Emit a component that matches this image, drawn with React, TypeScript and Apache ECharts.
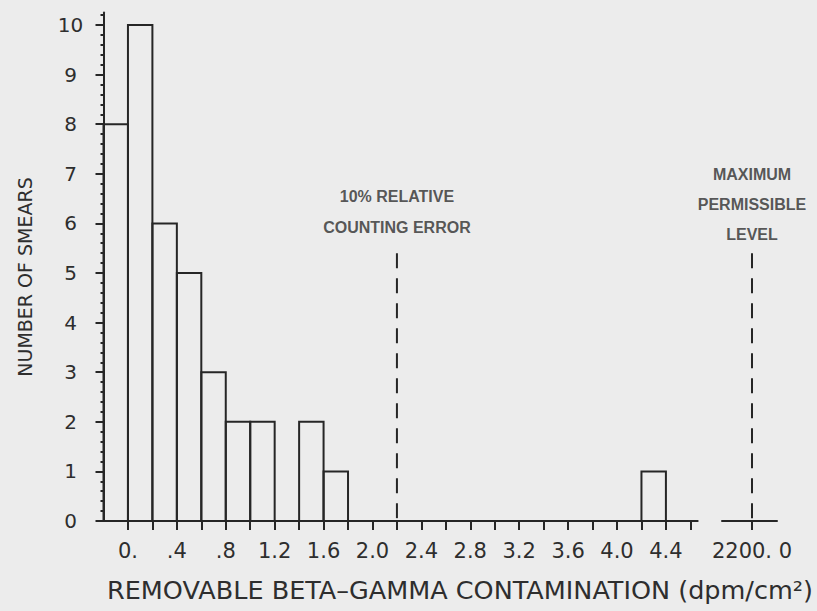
import { useEffect, useRef } from "react";
import * as echarts from "echarts";

// Histogram bins: left edge of each bin (dpm/cm²) and number of smears in it
const binStarts = [-0.2, 0, 0.2, 0.4, 0.6, 0.8, 1.0, 1.4, 1.6, 4.2];
const smearCounts = [8, 10, 6, 5, 3, 2, 2, 2, 1, 1];
const binWidth = 0.2;

// Axis ticks and labels
const xTickValues = [0, 0.2, 0.4, 0.6, 0.8, 1.0, 1.2, 1.4, 1.6, 1.8, 2.0, 2.2, 2.4, 2.6, 2.8, 3.0, 3.2, 3.4, 3.6, 3.8, 4.0, 4.2, 4.4, 4.6];
const xLabelValues = [0, 0.4, 0.8, 1.2, 1.6, 2.0, 2.4, 2.8, 3.2, 3.6, 4.0, 4.4];
const yLabelValues = [0, 1, 2, 3, 4, 5, 6, 7, 8, 9, 10];
const breakTickValues = [2200];

// Reference levels
const relativeErrorLevel = 2.2;
const maxPermissibleLevel = 2200;
const levelLineTop = 5.4;

const LINE = "#262626";
const TEXT = "#2e2e2e";
const BG = "#ececec";
const AXIS_FONT = "DejaVu Sans";
const NOTE_FONT = "Liberation Sans, Arial, sans-serif";

const formatX = (v: number) => {
  if (v === 0) return "0.";
  if (v < 1) return "." + Math.round(v * 10);
  return v.toFixed(1);
};

export default function App() {
  const ref = useRef<HTMLDivElement>(null);

  useEffect(() => {
    if (!ref.current) return;
    const chart = echarts.init(ref.current, null, { renderer: "svg" });

    const axisLine = { show: true, lineStyle: { color: LINE, width: 2 } };

    chart.setOption({
      animation: false,
      backgroundColor: BG,
      grid: [
        { left: 103.5, right: 119.3, top: 12.6, bottom: 90 },
        { left: 722, right: 40, top: 12.6, bottom: 90 },
      ],
      xAxis: [
        {
          type: "value",
          gridIndex: 0,
          min: -0.2,
          max: 4.66,
          interval: 0.2,
          axisLine: { ...axisLine, onZero: false },
          axisTick: { show: true, length: 9, customValues: xTickValues, lineStyle: { color: LINE, width: 2 } },
          axisLabel: {
            customValues: xLabelValues,
            formatter: formatX,
            color: TEXT,
            fontFamily: AXIS_FONT,
            fontSize: 21,
            margin: 30,
            verticalAlign: "middle",
          },
          splitLine: { show: false },
        },
        {
          type: "value",
          gridIndex: 1,
          min: 2170,
          max: 2225,
          axisLine: { ...axisLine, onZero: false },
          axisTick: { show: true, length: 9, customValues: breakTickValues, lineStyle: { color: LINE, width: 2 } },
          axisLabel: {
            customValues: breakTickValues,
            formatter: () => "2200. 0",
            color: TEXT,
            fontFamily: AXIS_FONT,
            fontSize: 21,
            margin: 30,
            verticalAlign: "middle",
          },
          splitLine: { show: false },
        },
      ],
      yAxis: [
        {
          type: "value",
          gridIndex: 0,
          min: 0,
          max: 10.25,
          interval: 1,
          axisLine: { ...axisLine, onZero: false },
          axisTick: { show: true, length: 8, customValues: yLabelValues, lineStyle: { color: LINE, width: 2 } },
          minorTick: { show: true, splitNumber: 5, length: 3, lineStyle: { color: LINE, width: 2 } },
          axisLabel: {
            customValues: yLabelValues,
            color: TEXT,
            fontFamily: AXIS_FONT,
            fontSize: 20,
            align: "center",
            margin: 33,
          },
          splitLine: { show: false },
          minorSplitLine: { show: false },
        },
        {
          type: "value",
          gridIndex: 1,
          min: 0,
          max: 10.25,
          show: false,
        },
      ],
      graphic: [
        {
          type: "text",
          x: 25,
          y: 277,
          rotation: Math.PI / 2,
          style: {
            text: "NUMBER OF SMEARS",
            fill: TEXT,
            font: `19px ${AXIS_FONT}`,
            align: "center",
            verticalAlign: "middle",
          },
        },
        {
          type: "text",
          x: 460,
          y: 590,
          style: {
            text: "REMOVABLE BETA–GAMMA CONTAMINATION (dpm/cm²)",
            fill: TEXT,
            font: `25.5px ${AXIS_FONT}`,
            align: "center",
            verticalAlign: "middle",
          },
        },
      ],
      series: [
        {
          type: "custom",
          xAxisIndex: 0,
          yAxisIndex: 0,
          clip: false,
          data: binStarts.map((s, i) => [s, s + binWidth, smearCounts[i]]),
          encode: { x: [0, 1], y: 2 },
          renderItem: (_params: any, api: any) => {
            const p0 = api.coord([api.value(0), api.value(2)]);
            const p1 = api.coord([api.value(1), 0]);
            return {
              type: "rect",
              shape: { x: p0[0], y: p0[1], width: p1[0] - p0[0], height: p1[1] - p0[1] },
              style: { fill: "none", stroke: LINE, lineWidth: 2 },
            };
          },
        },
        {
          type: "line",
          xAxisIndex: 0,
          yAxisIndex: 0,
          showSymbol: false,
          symbol: "none",
          data: [
            [relativeErrorLevel, levelLineTop],
            [relativeErrorLevel, 0],
          ],
          lineStyle: { color: LINE, width: 2, type: [15, 10] },
        },
        {
          type: "line",
          xAxisIndex: 1,
          yAxisIndex: 1,
          showSymbol: false,
          symbol: "none",
          data: [
            [maxPermissibleLevel, levelLineTop],
            [maxPermissibleLevel, 0],
          ],
          lineStyle: { color: LINE, width: 2, type: [15, 10] },
        },
        {
          type: "scatter",
          xAxisIndex: 0,
          yAxisIndex: 0,
          symbolSize: 1,
          itemStyle: { color: "transparent" },
          data: [[relativeErrorLevel, levelLineTop]],
          label: {
            show: true,
            position: "top",
            distance: 10,
            formatter: "10% RELATIVE\nCOUNTING ERROR",
            color: TEXT,
            fontFamily: NOTE_FONT,
            fontWeight: "bold",
            fontSize: 16,
            lineHeight: 31,
            align: "center",
          },
        },
        {
          type: "scatter",
          xAxisIndex: 1,
          yAxisIndex: 1,
          symbolSize: 1,
          itemStyle: { color: "transparent" },
          data: [[maxPermissibleLevel, levelLineTop]],
          label: {
            show: true,
            position: "top",
            distance: 3,
            formatter: "MAXIMUM\nPERMISSIBLE\nLEVEL",
            color: TEXT,
            fontFamily: NOTE_FONT,
            fontWeight: "bold",
            fontSize: 16,
            lineHeight: 30,
            align: "center",
          },
        },
      ],
    });

    return () => chart.dispose();
  }, []);

  return (
    <div
      ref={ref}
      style={{ position: "fixed", left: 0, top: 0, width: 817, height: 611, background: BG }}
    />
  );
}
